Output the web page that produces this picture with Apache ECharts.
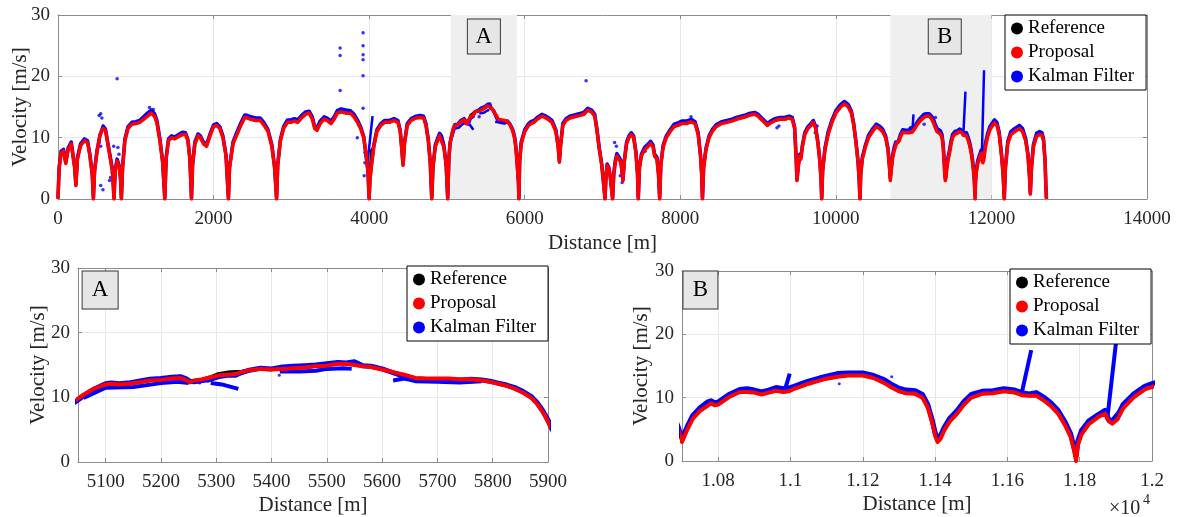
<!DOCTYPE html>
<html>
<head>
<meta charset="utf-8">
<script src="https://cdn.jsdelivr.net/npm/echarts@6/dist/echarts.min.js"></script>
<style>
html, body { margin: 0; padding: 0; background: #fff; }
#chart { width: 1181px; height: 517px; }
</style>
</head>
<body>
<div id="chart"></div>
<script>
// velocity profiles, [distance m, velocity m/s]
var proposal = [
[0,0],[15,5.0],[40,7.5],[70,7.8],[100,5.8],[130,8.0],[170,9.0],[195,8.8],[215,5.0],[230,2.2],[250,6.5],[290,8.7],[340,9.5],[380,9.2],[410,7.0],[440,4.0],[455,0],
[470,4.5],[500,7.5],[540,10.5],[580,11.5],[610,11.2],[640,9.0],[680,6.0],[700,4.5],[720,0],
[735,4.5],[760,6.2],[790,5.0],[805,3.0],[815,0],
[830,5.0],[860,9.5],[900,11.5],[950,12.2],[1000,12.3],[1050,12.5],[1100,13.0],[1150,13.5],[1200,14.0],[1240,13.5],[1270,12.5],[1310,9.5],[1345,6.0],[1373,0],
[1390,6.5],[1420,9.5],[1460,10.0],[1500,9.8],[1550,10.2],[1600,10.5],[1640,10.5],[1670,9.5],[1695,6.5],[1716,0],
[1730,5.5],[1760,9.0],[1800,10.3],[1830,10.0],[1870,9.0],[1910,8.6],[1960,10.5],[2000,11.8],[2040,12.0],[2080,11.5],[2120,10.0],[2160,7.0],[2191,0],
[2205,5.0],[2250,9.0],[2300,10.5],[2350,12.0],[2400,13.3],[2440,13.2],[2480,13.0],[2540,12.8],[2600,12.8],[2650,12.0],[2700,11.0],[2750,8.5],[2785,5.0],[2810,0],
[2825,5.5],[2860,9.5],[2900,11.5],[2950,12.5],[2990,12.5],[3040,12.7],[3080,12.5],[3130,13.2],[3180,13.8],[3230,14.0],[3270,13.0],[3300,11.5],[3330,11.2],[3370,12.3],[3420,13.0],[3460,12.8],[3510,12.3],[3550,13.0],[3590,14.0],[3640,14.2],[3700,14.0],[3760,14.0],[3800,13.5],[3850,12.5],[3890,11.5],[3930,10.0],[3960,7.5],[3985,4.5],[4000,0],
[4010,3.0],[4030,5.5],[4060,8.5],[4100,11.0],[4150,12.0],[4200,12.5],[4260,12.5],[4320,12.8],[4370,12.5],[4400,11.0],[4420,8.0],[4436,5.5],[4455,9.0],[4490,12.0],[4540,12.8],[4600,13.2],[4660,13.3],[4700,13.2],[4730,12.0],[4760,9.5],[4785,6.0],[4805,0],
[4820,5.0],[4850,8.5],[4880,9.5],[4905,10.3],[4930,10.0],[4960,8.5],[4990,5.5],[5010,0],
[5025,6.5],[5040,9.2],
[5050,9.8],[5060,10.4],[5070,10.9],[5080,11.4],[5090,11.7],[5100,12.0],[5110,12.1],[5125,12.0],[5140,12.1],[5160,12.3],[5180,12.6],[5200,12.7],[5220,12.9],[5235,13.0],[5245,12.7],[5252,12.3],[5260,12.6],[5275,12.8],[5290,13.1],[5305,13.4],[5320,13.5],[5335,13.6],[5345,13.9],[5360,14.2],[5380,14.4],[5400,14.3],[5420,14.4],[5440,14.5],[5460,14.6],[5480,14.8],[5500,14.9],[5520,15.2],[5535,15.2],[5550,15.0],[5565,14.8],[5580,14.7],[5600,14.3],[5620,13.9],[5640,13.5],[5660,13.0],[5680,12.9],[5700,12.9],[5720,12.9],[5740,12.8],[5760,12.8],[5780,12.6],[5795,12.4],[5810,12.1],[5825,11.8],[5840,11.3],[5855,10.7],[5870,9.9],[5880,9.0],[5890,7.8],[5900,6.2],[5920,2.5],[5925,0],
[5935,6.0],[5955,9.0],[6000,11.0],[6050,12.0],[6080,12.3],[6120,12.5],[6160,13.0],[6220,13.5],[6260,13.3],[6300,13.0],[6350,12.5],[6400,11.0],[6430,8.5],[6446,6.0],[6460,8.5],[6490,12.0],[6530,12.8],[6580,13.2],[6640,13.4],[6700,13.6],[6760,13.8],[6810,14.5],[6860,14.2],[6900,13.5],[6930,11.0],[6960,8.0],[6990,5.5],[7010,3.0],[7032,0],
[7045,3.5],[7060,5.5],[7080,5.0],[7100,3.5],[7130,0],
[7145,4.0],[7165,6.0],[7185,7.0],[7210,6.5],[7235,6.0],[7250,4.5],[7263,3.0],[7280,6.0],[7310,9.0],[7340,10.0],[7370,10.5],[7400,10.0],[7430,7.5],[7450,4.0],[7460,0],
[7475,5.0],[7500,7.0],[7540,8.0],[7580,8.5],[7620,9.0],[7650,8.5],[7670,7.0],[7700,6.5],[7720,4.0],[7735,0],
[7750,5.5],[7780,8.5],[7820,10.0],[7870,11.0],[7920,11.8],[7970,12.0],[8020,12.3],[8080,12.3],[8140,12.6],[8190,12.3],[8230,10.5],[8260,7.0],[8275,4.0],[8285,0],
[8300,5.0],[8330,8.0],[8370,10.0],[8410,11.0],[8460,11.8],[8530,12.3],[8600,12.5],[8660,12.7],[8720,13.0],[8780,13.2],[8840,13.4],[8900,13.7],[8960,13.8],[9000,13.5],[9040,13.0],[9080,12.5],[9120,12.0],[9160,12.4],[9220,12.8],[9280,13.0],[9340,13.0],[9400,13.2],[9440,13.0],[9470,11.5],[9490,6.5],[9500,3.0],[9515,5.0],[9535,7.0],[9550,6.5],[9570,8.5],[9600,10.5],[9640,11.5],[9680,12.0],[9710,12.5],[9740,11.5],[9770,9.0],[9795,6.0],[9810,3.0],[9818,0],
[9830,4.5],[9860,8.0],[9900,10.5],[9950,12.5],[10000,14.0],[10060,15.0],[10110,15.5],[10160,15.0],[10200,14.0],[10230,12.0],[10260,9.0],[10285,6.0],[10300,3.0],[10310,0],
[10320,4.0],[10340,6.5],[10380,8.5],[10420,10.0],[10470,11.0],[10520,11.8],[10560,11.5],[10600,11.0],[10640,10.0],[10670,8.0],[10690,5.0],
[10700,3.0],[10705,3.2],[10715,5.0],[10730,6.7],[10750,7.9],[10770,8.7],[10780,9.1],[10790,8.8],[10800,8.9],[10815,9.5],[10830,10.1],[10845,10.5],[10860,10.9],[10880,10.9],[10900,10.8],[10920,10.5],[10940,10.8],[10960,11.1],[10980,10.9],[10995,11.0],[11010,11.4],[11030,11.8],[11050,12.2],[11080,12.7],[11100,13.0],[11130,13.3],[11160,13.5],[11200,13.5],[11230,13.1],[11260,12.3],[11280,11.6],[11300,11.0],[11320,10.7],[11345,10.6],[11365,10.0],[11380,8.4],[11392,6.0],[11400,4.0],[11407,3.0],[11415,3.5],[11425,4.8],[11440,6.2],[11460,7.4],[11480,8.9],[11500,10.0],[11530,10.6],[11560,10.7],[11590,11.0],[11620,10.8],[11640,10.4],[11660,10.3],[11680,10.3],[11700,9.6],[11720,8.7],[11740,7.5],[11760,5.6],[11775,3.8],[11785,1.5],[11790,0],[11795,2.5],[11805,4.2],[11825,5.8],[11850,6.9],[11870,7.5],[11880,6.3],[11890,5.9],[11905,6.6],[11920,8.3],[11950,10.1],[11980,11.3],[12000,11.7],
[12020,12.0],[12040,12.4],[12070,12.0],[12100,10.5],[12130,7.0],[12150,4.0],[12165,0],
[12180,5.0],[12210,9.0],[12250,10.5],[12300,11.0],[12360,11.5],[12400,11.0],[12440,9.5],[12470,7.0],[12490,3.5],[12500,0.8],
[12515,5.0],[12540,8.5],[12580,10.2],[12620,10.5],[12650,10.4],[12670,9.5],[12690,6.0],[12700,2.0],[12707,0]
];

var reference = [
[0,0],[15,5.0],[40,7.5],[70,7.8],[100,5.8],[130,8.0],[170,9.0],[195,8.8],[215,5.0],[230,2.2],[250,6.5],[290,8.7],[340,9.5],[380,9.2],[410,7.0],[440,4.0],[455,0],
[470,4.5],[500,7.5],[540,10.5],[580,11.5],[610,11.2],[640,9.0],[680,6.0],[700,4.5],[720,0],
[735,4.5],[760,6.2],[790,5.0],[805,3.0],[815,0],
[830,5.0],[860,9.5],[900,11.5],[950,12.2],[1000,12.3],[1050,12.5],[1100,13.0],[1150,13.5],[1200,14.0],[1240,13.5],[1270,12.5],[1310,9.5],[1345,6.0],[1373,0],
[1390,6.5],[1420,9.5],[1460,10.0],[1500,9.8],[1550,10.2],[1600,10.5],[1640,10.5],[1670,9.5],[1695,6.5],[1716,0],
[1730,5.5],[1760,9.0],[1800,10.3],[1830,10.0],[1870,9.0],[1910,8.6],[1960,10.5],[2000,11.8],[2040,12.0],[2080,11.5],[2120,10.0],[2160,7.0],[2191,0],
[2205,5.0],[2250,9.0],[2300,10.5],[2350,12.0],[2400,13.3],[2440,13.2],[2480,13.0],[2540,12.8],[2600,12.8],[2650,12.0],[2700,11.0],[2750,8.5],[2785,5.0],[2810,0],
[2825,5.5],[2860,9.5],[2900,11.5],[2950,12.5],[2990,12.5],[3040,12.7],[3080,12.5],[3130,13.2],[3180,13.8],[3230,14.0],[3270,13.0],[3300,11.5],[3330,11.2],[3370,12.3],[3420,13.0],[3460,12.8],[3510,12.3],[3550,13.0],[3590,14.0],[3640,14.2],[3700,14.0],[3760,14.0],[3800,13.5],[3850,12.5],[3890,11.5],[3930,10.0],[3960,7.5],[3985,4.5],[4000,0],
[4010,4.5],[4030,8.0],[4060,8.5],[4100,11.0],[4150,12.0],[4200,12.5],[4260,12.5],[4320,12.8],[4370,12.5],[4400,11.0],[4420,8.0],[4436,5.5],[4455,9.0],[4490,12.0],[4540,12.8],[4600,13.2],[4660,13.3],[4700,13.2],[4730,12.0],[4760,9.5],[4785,6.0],[4805,0],
[4820,5.0],[4850,8.5],[4880,9.5],[4905,10.3],[4930,10.0],[4960,8.5],[4990,5.5],[5010,0],
[5025,6.5],[5040,9.2],
[5050,9.8],[5060,10.4],[5070,10.9],[5080,11.4],[5090,11.7],[5100,12.0],[5110,12.1],[5125,12.0],[5140,12.1],[5160,12.3],[5180,12.6],[5200,12.7],[5220,12.9],[5235,13.0],[5245,12.7],[5252,12.3],[5260,12.6],[5275,12.8],[5290,13.2],[5305,13.7],[5320,13.9],[5335,14.0],[5345,14.0],[5360,14.2],[5380,14.4],[5400,14.3],[5420,14.4],[5440,14.5],[5460,14.6],[5480,14.8],[5500,14.9],[5520,15.2],[5535,15.2],[5550,15.0],[5565,14.8],[5580,14.7],[5600,14.3],[5620,13.9],[5640,13.5],[5660,13.0],[5680,12.9],[5700,12.9],[5720,12.9],[5740,12.8],[5760,12.8],[5780,12.6],[5795,12.4],[5810,12.1],[5825,11.8],[5840,11.3],[5855,10.7],[5870,9.9],[5880,9.0],[5890,7.8],[5900,6.2],[5920,2.5],[5925,0],
[5935,6.0],[5955,9.0],[6000,11.0],[6050,12.0],[6080,12.3],[6120,12.5],[6160,13.0],[6220,13.5],[6260,13.3],[6300,13.0],[6350,12.5],[6400,11.0],[6430,8.5],[6446,6.0],[6460,8.5],[6490,12.0],[6530,12.8],[6580,13.2],[6640,13.4],[6700,13.6],[6760,13.8],[6810,14.5],[6860,14.2],[6900,13.5],[6930,11.0],[6960,8.0],[6990,5.5],[7010,3.0],[7032,0],
[7045,3.5],[7060,5.5],[7080,5.0],[7100,3.5],[7130,0],
[7145,4.0],[7165,6.0],[7185,7.0],[7210,6.5],[7235,6.0],[7250,4.5],[7263,3.0],[7280,6.0],[7310,9.0],[7340,10.0],[7370,10.5],[7400,10.0],[7430,7.5],[7450,4.0],[7460,0],
[7475,5.0],[7500,7.0],[7540,8.0],[7580,8.5],[7620,9.0],[7650,8.5],[7670,7.0],[7700,6.5],[7720,4.0],[7735,0],
[7750,5.5],[7780,8.5],[7820,10.0],[7870,11.0],[7920,11.8],[7970,12.0],[8020,12.3],[8080,12.3],[8140,12.6],[8190,12.3],[8230,10.5],[8260,7.0],[8275,4.0],[8285,0],
[8300,5.0],[8330,8.0],[8370,10.0],[8410,11.0],[8460,11.8],[8530,12.3],[8600,12.5],[8660,12.7],[8720,13.0],[8780,13.2],[8840,13.4],[8900,13.7],[8960,13.8],[9000,13.5],[9040,13.0],[9080,12.5],[9120,12.0],[9160,12.4],[9220,12.8],[9280,13.0],[9340,13.0],[9400,13.2],[9440,13.0],[9470,11.5],[9490,6.5],[9500,3.0],[9515,5.0],[9535,7.0],[9550,6.5],[9570,8.5],[9600,10.5],[9640,11.5],[9680,12.0],[9710,12.5],[9740,11.5],[9770,9.0],[9795,6.0],[9810,3.0],[9818,0],
[9830,4.5],[9860,8.0],[9900,10.5],[9950,12.5],[10000,14.0],[10060,15.0],[10110,15.5],[10160,15.0],[10200,14.0],[10230,12.0],[10260,9.0],[10285,6.0],[10300,3.0],[10310,0],
[10320,4.0],[10340,6.5],[10380,8.5],[10420,10.0],[10470,11.0],[10520,11.8],[10560,11.5],[10600,11.0],[10640,10.0],[10670,8.0],[10690,5.0],
[10700,3.0],[10705,3.2],[10715,5.0],[10730,6.7],[10750,7.9],[10770,8.7],[10780,9.1],[10790,8.8],[10800,8.9],[10815,9.5],[10830,10.1],[10845,10.5],[10860,10.9],[10880,10.9],[10900,10.8],[10920,10.5],[10940,10.8],[10960,11.1],[10980,10.9],[10995,11.0],[11010,11.4],[11030,11.8],[11050,12.2],[11080,12.7],[11100,13.0],[11130,13.3],[11160,13.5],[11200,13.5],[11230,13.1],[11260,12.3],[11280,11.6],[11300,11.0],[11320,10.7],[11345,10.6],[11365,10.0],[11380,8.4],[11392,6.0],[11400,4.0],[11407,3.0],[11415,3.5],[11425,4.8],[11440,6.2],[11460,7.4],[11480,8.9],[11500,10.0],[11530,10.6],[11560,10.7],[11590,11.0],[11620,10.8],[11640,10.4],[11660,10.3],[11680,10.3],[11700,9.6],[11720,8.7],[11740,7.5],[11760,5.6],[11775,3.8],[11785,1.5],[11790,0],[11795,2.5],[11805,4.2],[11825,5.8],[11850,6.9],[11870,7.5],[11880,6.5],[11890,6.6],[11905,7.6],[11920,8.5],[11950,10.1],[11980,11.3],[12000,11.7],
[12020,12.0],[12040,12.4],[12070,12.0],[12100,10.5],[12130,7.0],[12150,4.0],[12165,0],
[12180,5.0],[12210,9.0],[12250,10.5],[12300,11.0],[12360,11.5],[12400,11.0],[12440,9.5],[12470,7.0],[12490,3.5],[12500,0.8],
[12515,5.0],[12540,8.5],[12580,10.2],[12620,10.5],[12650,10.4],[12670,9.5],[12690,6.0],[12700,2.0],[12707,0]
];

var kalman = [
[0,0.2],[15,5.2],[40,7.8],[70,8.1],[100,6.0],[130,8.3],[170,9.3],[195,9.1],[215,5.2],[230,2.4],[250,6.8],[290,9.0],[340,9.8],[380,9.5],[410,7.3],[440,4.2],[455,0.2],
[470,4.7],[500,7.8],[540,10.4],[580,11.9],[610,11.4],[640,9.2],[680,6.3],[700,4.8],[720,0.3],
[735,4.7],[760,6.5],[790,5.3],[805,3.2],[815,0.2],
[830,5.2],[860,9.8],[900,11.8],[950,12.5],[1000,12.6],[1050,12.8],[1100,13.4],[1150,14.0],[1200,14.5],[1240,13.9],[1270,12.9],[1310,9.8],[1345,6.2],[1373,0.2],
[1390,6.7],[1420,9.8],[1460,10.3],[1500,10.1],[1550,10.5],[1600,10.9],[1640,10.8],[1670,9.7],[1695,6.7],[1716,0.2],
[1730,5.7],[1760,9.3],[1800,10.6],[1830,10.3],[1870,9.3],[1910,8.9],[1960,10.8],[2000,12.1],[2040,12.3],[2080,11.8],[2120,10.3],[2160,7.2],[2191,0.2],
[2205,5.2],[2250,9.3],[2300,10.9],[2350,12.4],[2400,13.7],[2440,13.6],[2480,13.4],[2540,13.2],[2600,13.2],[2650,12.4],[2700,11.3],[2750,8.8],[2785,5.2],[2810,0.2],
[2825,5.7],[2860,9.8],[2900,11.8],[2950,12.9],[2990,12.9],[3040,13.1],[3080,12.9],[3130,13.6],[3180,14.2],[3230,14.3],[3270,13.4],[3300,11.8],[3330,11.6],[3370,12.7],[3420,13.4],[3460,13.2],[3510,12.7],[3550,13.4],[3590,14.4],[3640,14.7],[3700,14.5],[3760,14.4],[3800,13.9],[3850,12.9],[3890,11.8],[3930,10.2],[3960,7.0],[3985,4.5],[4000,0.2],
[4010,3.2],[4030,5.7],[4060,8.8],[4100,11.3],[4150,12.3],[4200,12.8],[4260,12.8],[4320,13.1],[4370,12.8],[4400,11.2],[4420,8.2],[4436,5.7],[4455,9.3],[4490,12.3],[4540,13.1],[4600,13.5],[4660,13.6],[4700,13.5],[4730,12.3],[4760,9.8],[4785,6.2],[4805,0.2],
[4820,5.2],[4850,8.8],[4880,9.9],[4905,10.7],[4930,10.3],[4960,8.8],[4990,5.7],[5010,0.2],
[5025,6.6],[5040,9.0],
[5050,9.6],[5060,10.2],[5070,10.8],[5080,11.3],[5090,11.7],[5100,12.1],[5110,12.2],[5125,12.1],[5140,12.2],[5160,12.5],[5180,12.8],[5200,12.9],[5220,13.1],[5235,13.2],[5245,12.9],[5252,12.5],[5260,12.4],[5275,12.6],[5290,12.8],[5305,13.2],[5320,13.4],[5335,13.4],[5345,13.8],[5360,14.2],[5380,14.5],[5400,14.4],[5420,14.7],[5440,14.8],[5460,14.9],[5480,15.0],[5500,15.2],[5520,15.4],[5535,15.3],[5550,15.5],[5565,14.9],[5580,14.8],[5600,14.4],[5620,13.8],[5640,13.2],[5660,12.8],[5680,12.7],[5700,12.7],[5720,12.6],[5740,12.6],[5760,12.8],[5780,12.7],[5795,12.5],[5810,12.2],[5825,11.9],[5840,11.5],[5855,10.9],[5870,10.1],[5880,9.2],[5890,8.0],[5900,6.5],[5920,2.7],[5925,0.2],
[5935,6.2],[5955,9.3],[6000,11.3],[6050,12.3],[6080,12.6],[6120,12.8],[6160,13.3],[6220,13.8],[6260,13.6],[6300,13.3],[6350,12.8],[6400,11.3],[6430,8.7],[6446,6.2],[6460,8.7],[6490,12.3],[6530,13.1],[6580,13.5],[6640,13.7],[6700,13.9],[6760,14.1],[6810,14.8],[6860,14.5],[6900,13.8],[6930,11.3],[6960,8.2],[6990,5.7],[7010,3.2],[7032,0.2],
[7045,3.7],[7060,5.7],[7080,5.2],[7100,3.7],[7130,0.2],
[7145,4.2],[7165,6.3],[7185,7.4],[7210,6.9],[7235,6.3],[7250,4.7],[7263,3.2],[7280,6.2],[7310,9.3],[7340,10.3],[7370,10.8],[7400,10.3],[7430,7.7],[7450,4.2],[7460,0.2],
[7475,5.2],[7500,7.3],[7540,8.4],[7580,8.9],[7620,9.4],[7650,8.8],[7670,7.3],[7700,6.8],[7720,4.2],[7735,0.2],
[7750,5.7],[7780,8.8],[7820,10.3],[7870,11.3],[7920,12.2],[7970,12.4],[8020,12.7],[8080,12.7],[8140,13.0],[8190,12.6],[8230,10.8],[8260,7.2],[8275,4.2],[8285,0.2],
[8300,5.2],[8330,8.3],[8370,10.3],[8410,11.3],[8460,12.1],[8530,12.6],[8600,12.8],[8660,13.0],[8720,13.3],[8780,13.5],[8840,13.7],[8900,14.0],[8960,14.1],[9000,13.8],[9040,13.3],[9080,12.8],[9120,12.3],[9160,12.7],[9220,13.1],[9280,13.3],[9340,13.3],[9400,13.5],[9440,13.3],[9470,11.7],[9490,6.7],[9500,3.2],[9515,5.2],[9535,7.3],[9550,6.8],[9570,8.8],[9600,10.8],[9640,11.8],[9680,12.3],[9710,12.8],[9740,11.8],[9770,9.2],[9795,6.2],[9810,3.2],[9818,0.2],
[9830,4.7],[9860,8.3],[9900,10.9],[9950,12.9],[10000,14.4],[10060,15.4],[10110,15.9],[10160,15.4],[10200,14.3],[10230,12.3],[10260,9.2],[10285,6.2],[10300,3.2],[10310,0.2],
[10320,4.2],[10340,6.8],[10380,8.8],[10420,10.4],[10470,11.4],[10520,12.2],[10560,11.9],[10600,11.4],[10640,10.3],[10670,8.3],[10690,5.3],
[10700,3.5],[10705,3.6],[10715,5.5],[10730,7.2],[10750,8.4],[10770,9.3],[10780,9.5],[10790,9.2],[10800,9.3],[10815,9.9],[10830,10.5],[10845,10.9],[10860,11.3],[10880,11.4],[10900,11.2],[10920,10.9],[10940,11.2],[10960,11.6],[10980,11.4],[10995,11.5],[11010,11.8],[11030,12.2],[11050,12.6],[11080,13.1],[11100,13.4],[11130,13.8],[11160,13.9],[11200,13.9],[11230,13.5],[11260,12.8],[11280,12.1],[11300,11.5],[11320,11.2],[11345,11.1],[11365,10.5],[11380,8.9],[11392,6.5],[11400,4.5],[11407,3.5],[11415,4.0],[11425,5.3],[11440,6.7],[11460,7.9],[11480,9.4],[11500,10.5],[11530,11.0],[11560,11.1],[11590,11.4],[11620,11.2],[11640,10.8],[11660,10.6],[11680,10.8],[11700,10.1],[11720,9.2],[11740,8.0],[11760,6.1],[11775,4.3],[11785,2.0],[11790,0.8],[11795,3.2],[11805,4.8],[11825,6.3],[11850,7.3],[11870,8.0],[11880,6.6],[11890,6.3],[11905,7.2],[11920,8.9],[11950,10.6],[11980,11.8],[12000,12.2],
[12020,12.5],[12040,12.9],[12070,12.5],[12100,10.9],[12130,7.3],[12150,4.2],[12165,0.2],
[12180,5.3],[12210,9.4],[12250,11.0],[12300,11.5],[12360,12.0],[12400,11.5],[12440,9.9],[12470,7.3],[12490,3.7],[12500,1.0],
[12515,5.3],[12540,8.9],[12580,10.7],[12620,11.0],[12650,10.8],[12670,9.8],[12690,6.2],[12700,2.2],[12707,0.2]
];

// second Kalman tracks and jumps, null breaks the line
var kalmanBranch = [
[3975,5.5],[4044,13.5],[4044,null],
[5060,9.9],[5100,11.5],[5150,11.6],[5200,12.2],[5230,12.4],[5250,12.2],[5250,null],
[5290,12.2],[5310,12.0],[5340,11.3],[5340,null],
[5415,14.0],[5450,14.0],[5480,14.1],[5500,14.4],[5530,14.5],[5545,14.4],[5545,null],
[5620,12.6],[5640,12.9],[5660,12.5],[5700,12.4],[5740,12.3],[5780,12.5],[5780,null],
[10985,11.3],[10998,13.8],[10998,null],
[11638,10.3],[11666,17.5],[11666,null],
[11876,6.5],[11905,21.0]
];

var kalmanOutliers = [
[529,13.6],[549,13.9],[564,13.2],[529,9.2],[549,8.6],[549,2.2],[578,1.5],
[662,3.0],[676,3.5],[696,4.3],[716,8.6],[760,19.6],[770,8.4],[784,7.3],
[1176,14.9],[1225,14.6],
[3627,24.6],[3627,23.4],[3627,17.7],[3848,10.0],
[3922,27.1],[3922,25.0],[3922,23.5],[3922,22.7],[3922,20.1],[3922,14.8],[3946,7.6],[3946,5.9],[3936,3.8],
[5270,12.2],[5285,12.5],[5414,13.4],
[6789,19.3],
[7155,9.2],[7179,8.6],[7229,3.8],[7253,2.7],[7548,7.8],[7572,8.4],
[8138,13.4],[9243,11.6],[9268,11.9],[9538,7.0],[9735,10.8],[9759,11.9],
[11135,12.2],[11280,13.3]
];

var zoneA = [5050, 5900];
var zoneB = [10700, 12000];
var legendNames = ['Reference', 'Proposal', 'Kalman Filter'];

var serif = '"Liberation Serif", serif';
var axisColor = '#8c8c8c';
var textColor = '#262626';
var gridColor = '#e8e8e8';

var myChart = echarts.init(document.getElementById('chart'));

// one entry per panel: overview, zoom A, zoom B
var panels = [
	{ left: 58, top: 15, width: 1089, height: 184, min: 0, max: 14000, interval: 2000, yGap: 27, xGap: 34,
		w: { ref: 2.5, kal: 3.5, prop: 3.5, dot: 3.5 } },
	{ left: 78, top: 268, width: 470, height: 194, min: zoneA[0], max: zoneA[1], splitNumber: 8, yGap: 29, xGap: 33,
		w: { ref: 3, kal: 5, prop: 4, dot: 3 } },
	{ left: 682, top: 271, width: 470, height: 190, min: zoneB[0], max: zoneB[1], splitNumber: 6, yGap: 30, xGap: 33,
		w: { ref: 3, kal: 5, prop: 4, dot: 3 },
		fmt: function(v) { return String(Math.round(v / 100) / 100); } }
];

var grids = [], xAxes = [], yAxes = [], series = [];
panels.forEach(function(p, i) {
	grids.push({ left: p.left, top: p.top, width: p.width, height: p.height, containLabel: false, outerBoundsMode: 'none' });
	var tick = { show: true, inside: true, length: 4, lineStyle: { color: axisColor } };
	var line = { show: true, onZero: false, lineStyle: { color: axisColor, width: 1 } };
	var base = { gridIndex: i, type: 'value', min: p.min, max: p.max };
	if (p.interval) base.interval = p.interval;
	if (p.splitNumber) base.splitNumber = p.splitNumber;
	xAxes[i] = Object.assign({}, base, {
		position: 'bottom', axisLine: line, axisTick: tick,
		axisLabel: { margin: 11, fontSize: 19, fontFamily: serif, color: textColor, showMinLabel: i === 0,
			formatter: p.fmt || function(v) { return String(v); } },
		splitLine: { show: true, lineStyle: { color: gridColor } },
		name: 'Distance [m]', nameLocation: 'middle', nameGap: p.xGap, nameMoveOverlap: false,
		nameTextStyle: { fontSize: 21, fontFamily: serif, color: textColor }
	});
	xAxes[i + 3] = Object.assign({}, base, {
		position: 'top', axisLine: line, axisTick: tick, axisLabel: { show: false }, splitLine: { show: false }
	});
	var ybase = { gridIndex: i, type: 'value', min: 0, max: 30, interval: 10 };
	yAxes[i] = Object.assign({}, ybase, {
		position: 'left', axisLine: line, axisTick: tick,
		axisLabel: { margin: 8, fontSize: 19, fontFamily: serif, color: textColor },
		splitLine: { show: true, lineStyle: { color: gridColor } },
		name: 'Velocity [m/s]', nameLocation: 'middle', nameGap: p.yGap, nameMoveOverlap: false,
		nameTextStyle: { fontSize: 21, fontFamily: serif, color: textColor }
	});
	yAxes[i + 3] = Object.assign({}, ybase, {
		position: 'right', axisLine: line, axisTick: tick, axisLabel: { show: false }, splitLine: { show: false }
	});

	function ln(name, data, color, width, z) {
		return { name: name, type: 'line', xAxisIndex: i, yAxisIndex: i, data: data,
			symbol: 'none', showSymbol: false, connectNulls: false, clip: true, z: z, animation: false,
			lineStyle: { color: color, width: width, join: 'round' }, itemStyle: { color: color },
			emphasis: { disabled: true } };
	}
	series.push(ln('Reference', reference, '#000000', p.w.ref, 3));
	series.push(ln('Kalman Filter', kalman, '#0000ff', p.w.kal, 4));
	series.push(ln('Kalman Filter', kalmanBranch, '#0000ff', p.w.kal - 1, 4));
	series.push({ name: 'Kalman Filter', type: 'scatter', xAxisIndex: i, yAxisIndex: i, data: kalmanOutliers,
		symbolSize: p.w.dot, itemStyle: { color: '#0000ff' }, z: 4, clip: true, animation: false, emphasis: { disabled: true } });
	series.push(ln('Proposal', proposal, '#ff0000', p.w.prop, 5));
});

// shaded zones and A / B boxes
var boxStyle = { color: '#e6e6e6', borderColor: '#333', borderWidth: 1 };
var boxLabel = { show: true, position: 'inside', formatter: '{b}', fontSize: 23, fontFamily: serif, color: '#000' };
series.push({ type: 'line', xAxisIndex: 0, yAxisIndex: 0, data: [], z: 1, animation: false,
	markArea: { silent: true, itemStyle: { color: '#efefef' },
		data: [[{ xAxis: zoneA[0] }, { xAxis: zoneA[1] }], [{ xAxis: zoneB[0] }, { xAxis: zoneB[1] }]] },
	markPoint: { silent: true, symbol: 'rect', symbolSize: [33, 35], itemStyle: boxStyle, label: boxLabel,
		data: [{ name: 'A', coord: [5475, 26.5] }, { name: 'B', coord: [11400, 26.5] }] } });
series.push({ type: 'line', xAxisIndex: 1, yAxisIndex: 1, data: [], z: 6, animation: false,
	markPoint: { silent: true, symbol: 'rect', symbolSize: [36, 38], itemStyle: boxStyle, label: boxLabel,
		data: [{ name: 'A', coord: [5090, 26.6] }] } });
series.push({ type: 'line', xAxisIndex: 2, yAxisIndex: 2, data: [], z: 6, animation: false,
	markPoint: { silent: true, symbol: 'rect', symbolSize: [35, 38], itemStyle: boxStyle, label: boxLabel,
		data: [{ name: 'B', coord: [10751, 27.0] }] } });

function legendAt(left, top) {
	return { data: legendNames, orient: 'vertical', left: left, top: top, z: 10,
		icon: 'circle', itemWidth: 12, itemHeight: 12, itemGap: 5, padding: [4, 12, 4, 6],
		backgroundColor: '#fff', borderColor: '#000', borderWidth: 1, borderRadius: 0,
		itemStyle: { borderWidth: 0 }, selectedMode: false,
		textStyle: { fontSize: 19, fontFamily: serif, color: '#000' } };
}

option = {
	backgroundColor: '#fff',
	animation: false,
	grid: grids,
	xAxis: xAxes,
	yAxis: yAxes,
	legend: [legendAt(1005, 15), legendAt(407, 266), legendAt(1010, 269)],
	graphic: [
		{ type: 'text', left: 1109, top: 499, style: { text: '×10', fontSize: 20, fontFamily: serif, fill: textColor } },
		{ type: 'text', left: 1143, top: 493, style: { text: '4', fontSize: 14, fontFamily: serif, fill: textColor } }
	],
	series: series
};

myChart.setOption(option);
</script>
</body>
</html>
